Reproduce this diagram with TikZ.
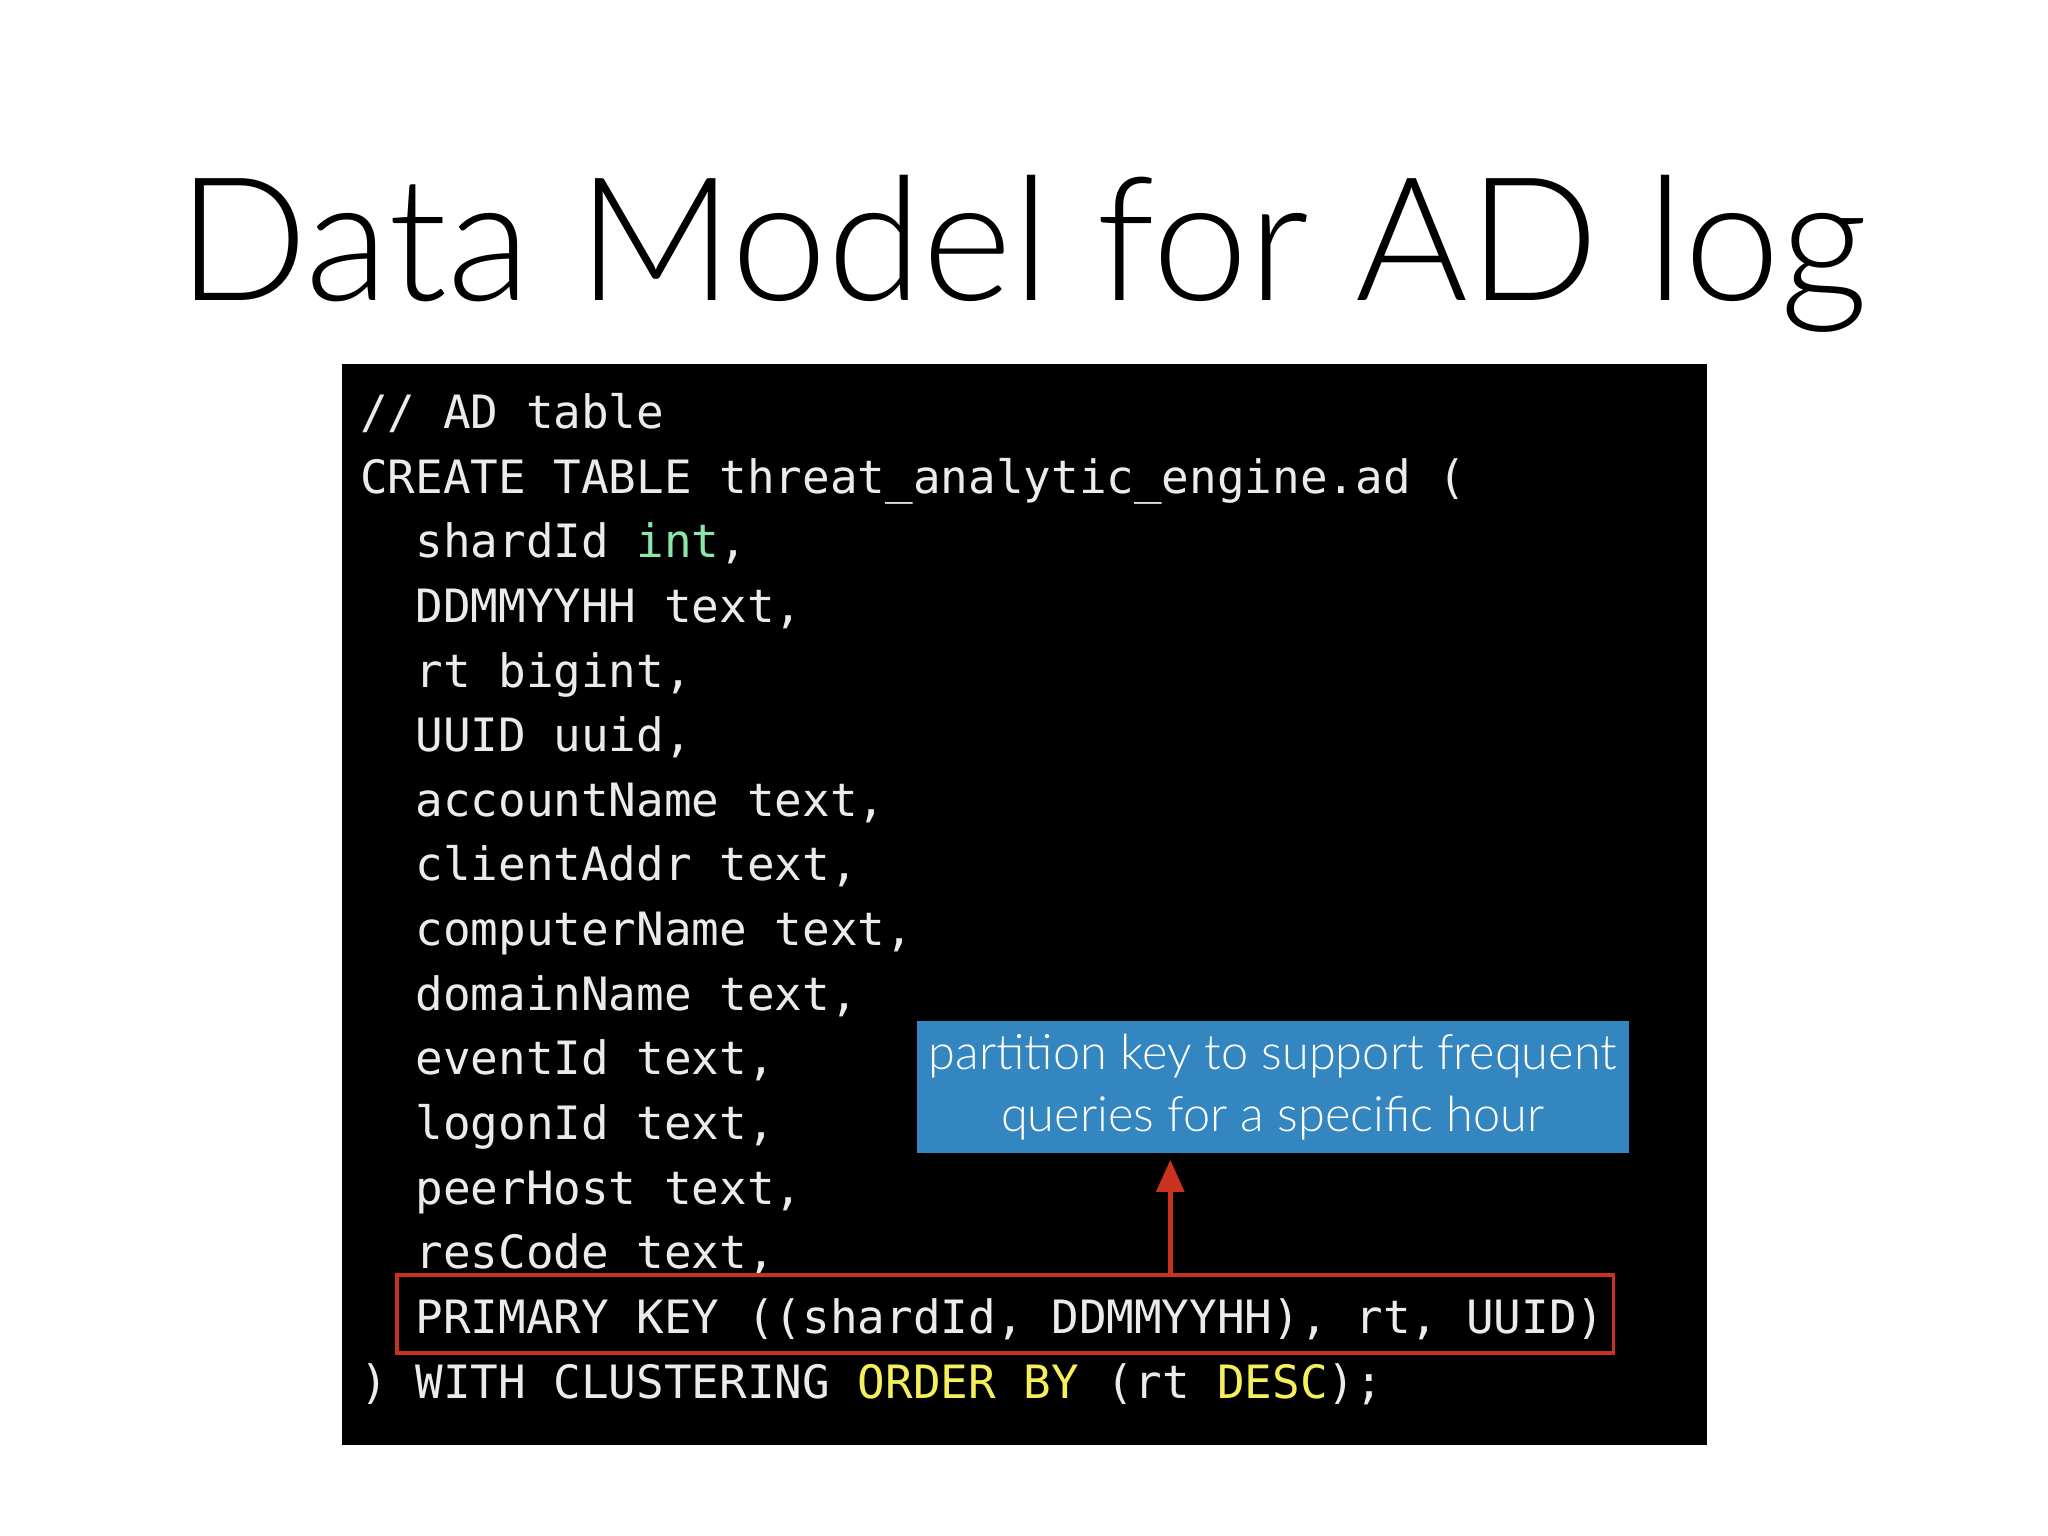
\documentclass[tikz,border=0pt]{standalone}
\usepackage{fontspec}
\usetikzlibrary{arrows.meta}
\newfontfamily\titlefont{Lato Light}
\newfontfamily\notefont{Lato Light}
\newfontfamily\codefont{DejaVu Sans Mono}
\definecolor{codefg}{RGB}{235,235,235}
\definecolor{codegreen}{RGB}{140,230,170}
\definecolor{codeyellow}{RGB}{245,240,90}
\definecolor{noteblue}{RGB}{52,134,192}
\definecolor{keyred}{RGB}{200,50,30}
\tikzset{
  codeline/.style={anchor=base west, inner sep=0pt, text=codefg, font=\codefont\fontsize{10}{12}\selectfont},
  notebox/.style={fill=noteblue, text=white, inner sep=0pt, minimum width=5.45cm, minimum height=1.01cm, align=center, font=\notefont\fontsize{10.6}{13.5}\selectfont},
  keybox/.style={draw=keyred, line width=0.8pt},
}
\begin{document}
\begin{tikzpicture}[x=0.01cm,y=-0.01cm]
\useasboundingbox (0,0) rectangle (1568,1176);
\fill[white] (0,0) rectangle (1568,1176);
\node[anchor=base, inner sep=0pt, font=\titlefont\fontsize{37.5}{40}\selectfont] (title) at (783,230) {Data Model for AD log};
\fill[black] (262,279) rectangle (1307,1106);
\def\lh{49.5}
\node[codeline] (l0) at (275,328) {// AD table};
\node[codeline] (l1) at (275,{328+\lh}) {CREATE TABLE threat\_analytic\_engine.ad (};
\node[codeline] (l2) at (275,{328+2*\lh}) {\ \ shardId \textcolor{codegreen}{int},};
\node[codeline] (l3) at (275,{328+3*\lh}) {\ \ DDMMYYHH text,};
\node[codeline] (l4) at (275,{328+4*\lh}) {\ \ rt bigint,};
\node[codeline] (l5) at (275,{328+5*\lh}) {\ \ UUID uuid,};
\node[codeline] (l6) at (275,{328+6*\lh}) {\ \ accountName text,};
\node[codeline] (l7) at (275,{328+7*\lh}) {\ \ clientAddr text,};
\node[codeline] (l8) at (275,{328+8*\lh}) {\ \ computerName text,};
\node[codeline] (l9) at (275,{328+9*\lh}) {\ \ domainName text,};
\node[codeline] (l10) at (275,{328+10*\lh}) {\ \ eventId text,};
\node[codeline] (l11) at (275,{328+11*\lh}) {\ \ logonId text,};
\node[codeline] (l12) at (275,{328+12*\lh}) {\ \ peerHost text,};
\node[codeline] (l13) at (275,{328+13*\lh}) {\ \ resCode text,};
\node[codeline] (l14) at (275,{328+14*\lh}) {\ \ PRIMARY KEY ((shardId, DDMMYYHH), rt, UUID)};
\node[codeline] (l15) at (275,{328+15*\lh}) {) WITH CLUSTERING \textcolor{codeyellow}{ORDER BY} (rt \textcolor{codeyellow}{DESC});};
\node[keybox, minimum width=9.31cm, minimum height=0.6cm, inner sep=0pt] (key) at (769.5,1006) {};
\node[notebox] (note) at (974.5,832.5) {partition key to support frequent\\queries for a specific hour};
\draw[keyred, line width=1pt, -{Triangle[length=7pt,width=6pt]}] (key.north -| 896,0) -- (896,888);
\end{tikzpicture}
\end{document}
